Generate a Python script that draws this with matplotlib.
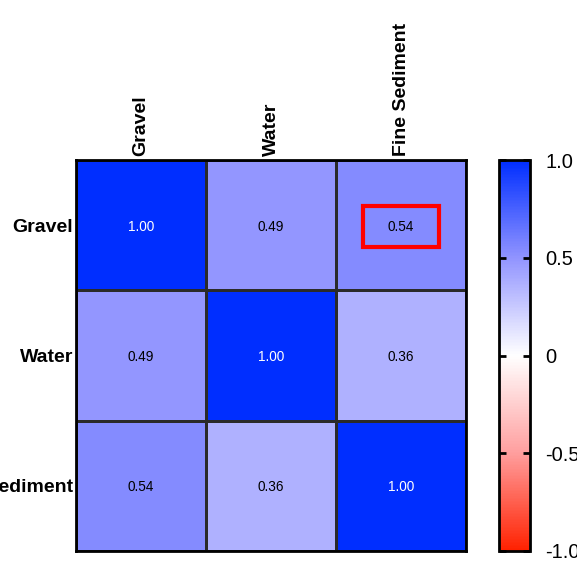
import numpy as np
import matplotlib
matplotlib.use("Agg")
import matplotlib.pyplot as plt
from matplotlib.colors import LinearSegmentedColormap, Normalize
from matplotlib.patches import Rectangle

plt.rcParams['font.family'] = ['Liberation Sans', 'DejaVu Sans']

variables = ["Gravel", "Water", "Fine Sediment"]
corr = np.array([
    [1.00, 0.49, 0.54],
    [0.49, 1.00, 0.36],
    [0.54, 0.36, 1.00],
])
cbar_ticks = [-1.0, -0.5, 0.0, 0.5, 1.0]
cbar_labels = ["-1.0", "-0.5", "0", "0.5", "1.0"]
highlight_cell = (0, 2)  # (row, col)

cmap = LinearSegmentedColormap.from_list(
    "rwb",
    [(0.0, (1.0, 0.13, 0.0)),
     (0.25, (1.0, 0.62, 0.62)),
     (0.5, (1.0, 1.0, 1.0)),
     (0.75, (0.57, 0.58, 1.0)),
     (1.0, (0.0, 0.18, 1.0))],
)
norm = Normalize(vmin=-1, vmax=1)

W, H = 577, 562
fig = plt.figure(figsize=(W / 100, H / 100), dpi=100)
ax = fig.add_axes([76 / W, 1 - 551 / H, 390 / W, 391 / H])

n = len(variables)
ax.pcolormesh(np.arange(n + 1) - 0.5, np.arange(n + 1) - 0.5, corr,
              cmap=cmap, norm=norm, edgecolors="#2a2a2a", linewidth=0.9)
ax.set_xlim(-0.5, n - 0.5)
ax.set_ylim(n - 0.5, -0.5)

for i in range(n):
    for j in range(n):
        v = corr[i, j]
        ax.text(j, i, f"{v:.2f}", ha="center", va="center_baseline",
                fontsize=9.8, color="white" if v > 0.8 else "black")

r, c = highlight_cell
ax.add_patch(Rectangle((c - 0.29, r - 0.15), 0.58, 0.32, fill=False,
                       edgecolor="#ff0000", linewidth=3, zorder=5))

ax.xaxis.tick_top()
ax.set_xticks(range(n))
ax.set_xticklabels(variables, rotation=90, fontsize=14, fontweight="bold")
ax.set_yticks(range(n))
ax.set_yticklabels(variables, fontsize=14, fontweight="bold")
ax.tick_params(axis="x", length=0, pad=3)
ax.tick_params(axis="y", length=0, pad=2)
for s in ax.spines.values():
    s.set_linewidth(2)

cax = fig.add_axes([499 / W, 1 - 551 / H, 31 / W, 391 / H])
sm = matplotlib.cm.ScalarMappable(norm=norm, cmap=cmap)
cb = fig.colorbar(sm, cax=cax, ticks=cbar_ticks)
cb.ax.set_yticklabels(cbar_labels, fontsize=14.5)
cb.outline.set_linewidth(2)
cax.tick_params(axis="y", direction="in", length=5, width=2, left=True,
                right=True, pad=11)

fig.savefig("out.png", dpi=100)
